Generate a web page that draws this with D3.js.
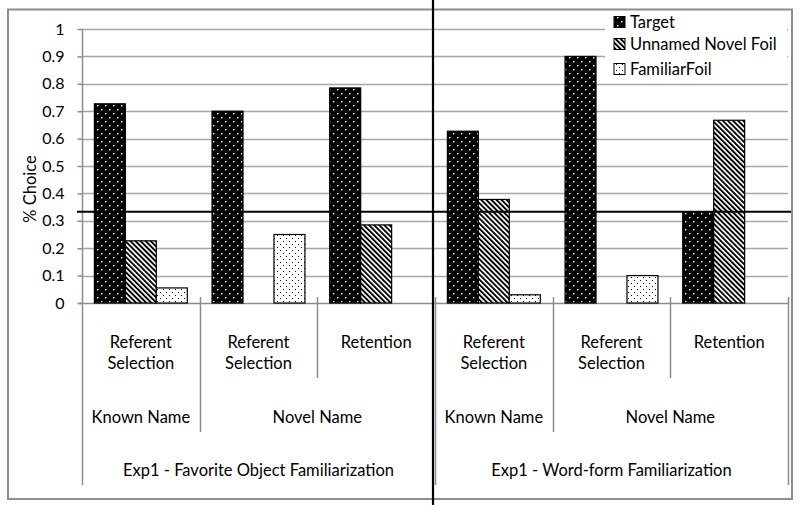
<!DOCTYPE html>
<html>
<head>
<meta charset="utf-8">
<script src="https://cdn.jsdelivr.net/npm/d3@7"></script>
<style>
  html, body { margin: 0; padding: 0; background: #fff; }
  svg { display: block; font-family: Lato, "Open Sans", sans-serif; }
</style>
</head>
<body>
<svg id="chart" width="800" height="505"></svg>
<script>
// ---- data ----
const categories = ["Cat1", "Cat2", "Cat3", "Cat4", "Cat5", "Cat6"];
const level1Labels = [["Referent", "Selection"], ["Referent", "Selection"], ["Retention"],
                      ["Referent", "Selection"], ["Referent", "Selection"], ["Retention"]];
const level2Labels = ["Known Name", "Novel Name", "Known Name", "Novel Name"];
const level2Spans = [1, 2, 1, 2];
const level3Labels = ["Exp1 - Favorite Object Familiarization", "Exp1 - Word-form Familiarization"];
const level3Spans = [3, 3];
const seriesNames = ["Target", "Unnamed Novel Foil", "FamiliarFoil"];
const targetValues = [0.727, 0.70, 0.785, 0.627, 0.90, 0.333];
const unnamedValues = [0.227, 0, 0.285, 0.378, 0, 0.667];
const familiarValues = [0.055, 0.25, 0, 0.03, 0.10, 0];
const yTicks = [0, 0.1, 0.2, 0.3, 0.4, 0.5, 0.6, 0.7, 0.8, 0.9, 1];
const chanceLevel = 0.333;

(function () {
const seriesValues = [targetValues, unnamedValues, familiarValues];
const patternIds = ["pTarget", "pUnnamed", "pFamiliar"];

const svg = d3.select("#chart");
const W = 800, H = 505;
const pLeft = 82, pRight = 788, pTop = 29, pBottom = 303;
const FS = 16.5;

// ---- patterns ----
const defs = svg.append("defs");
const pT = defs.append("pattern").attr("id", "pTarget").attr("patternUnits", "userSpaceOnUse")
  .attr("width", 8).attr("height", 8);
pT.append("rect").attr("width", 8).attr("height", 8).attr("fill", "#000");
pT.append("rect").attr("x", 1).attr("y", 1).attr("width", 1.4).attr("height", 1.4).attr("fill", "#fff");
pT.append("rect").attr("x", 5).attr("y", 5).attr("width", 1.4).attr("height", 1.4).attr("fill", "#fff");

const pU = defs.append("pattern").attr("id", "pUnnamed").attr("patternUnits", "userSpaceOnUse")
  .attr("width", 3.6).attr("height", 3.6).attr("patternTransform", "rotate(-45)");
pU.append("rect").attr("width", 3.6).attr("height", 3.6).attr("fill", "#fff");
pU.append("rect").attr("width", 1.9).attr("height", 3.6).attr("fill", "#000");

const pF = defs.append("pattern").attr("id", "pFamiliar").attr("patternUnits", "userSpaceOnUse")
  .attr("width", 6).attr("height", 6);
pF.append("rect").attr("width", 6).attr("height", 6).attr("fill", "#fff");
pF.append("rect").attr("x", 1).attr("y", 1).attr("width", 1).attr("height", 1).attr("fill", "#000");
pF.append("rect").attr("x", 4).attr("y", 4).attr("width", 1).attr("height", 1).attr("fill", "#000");

// ---- scales ----
const y = d3.scaleLinear().domain([0, 1]).range([pBottom, pTop]);
const x0 = d3.scaleBand().domain(categories).range([pLeft, pRight]).paddingInner(0).paddingOuter(0);
const x1 = d3.scaleBand().domain(seriesNames).range([0, x0.bandwidth()]).paddingInner(0).paddingOuter(0.4);

// background
svg.append("rect").attr("width", W).attr("height", H).attr("fill", "#fff");

// outer border
svg.append("rect").attr("x", 8).attr("y", 9.5).attr("width", 784).attr("height", 489.5)
  .attr("fill", "none").attr("stroke", "#8c8c8c").attr("stroke-width", 2);

// gridlines
svg.append("g").selectAll("line").data(yTicks.filter(d => d > 0)).join("line")
  .attr("x1", pLeft).attr("x2", pRight)
  .attr("y1", d => Math.round(y(d)) + 0.5).attr("y2", d => Math.round(y(d)) + 0.5)
  .attr("stroke", "#a6a6a6").attr("stroke-width", 1.6);

// y axis
const yAxis = d3.axisLeft(y).tickValues(yTicks).tickFormat(d => String(+d.toFixed(1))).tickSize(5).tickPadding(13);
const gy = svg.append("g").attr("transform", `translate(${pLeft + 0.5},0)`).call(yAxis);
gy.select(".domain").remove();
gy.selectAll(".tick line").attr("stroke", "#8c8c8c").attr("stroke-width", 1.5);
gy.selectAll(".tick text").attr("font-size", 16).attr("fill", "#000").attr("font-family", "Lato, sans-serif");
svg.append("line").attr("x1", pLeft + 0.5).attr("x2", pLeft + 0.5).attr("y1", pTop).attr("y2", 485)
  .attr("stroke", "#8c8c8c").attr("stroke-width", 1.5);
svg.append("line").attr("x1", pLeft - 3).attr("x2", pRight).attr("y1", pBottom + 0.5).attr("y2", pBottom + 0.5)
  .attr("stroke", "#8c8c8c").attr("stroke-width", 1.5);

// y title
svg.append("text").attr("transform", "translate(36,189) rotate(-90)")
  .attr("text-anchor", "middle").attr("font-size", FS).text("% Choice");

// bars
const barData = [];
categories.forEach((c, i) => {
  seriesNames.forEach((s, j) => {
    if (seriesValues[j][i] > 0) barData.push({ c, s, j, v: seriesValues[j][i] });
  });
});
svg.append("g").selectAll("rect").data(barData).join("rect")
  .attr("x", d => x0(d.c) + x1(d.s))
  .attr("y", d => y(d.v))
  .attr("width", x1.bandwidth())
  .attr("height", d => y(0) - y(d.v))
  .attr("fill", d => `url(#${patternIds[d.j]})`)
  .attr("stroke", "#000").attr("stroke-width", 1.2);

// chance line
svg.append("line").attr("x1", 77).attr("x2", 791).attr("y1", y(chanceLevel)).attr("y2", y(chanceLevel))
  .attr("stroke", "#000").attr("stroke-width", 2.2);

// multi-level category separators
const boundaries = d3.range(categories.length + 1).map(i => i < categories.length ? x0(categories[i]) : pRight);
const acc2 = [0]; level2Spans.reduce((a, s) => { acc2.push(a + s); return a + s; }, 0);
const acc3 = [0]; level3Spans.reduce((a, s) => { acc3.push(a + s); return a + s; }, 0);
boundaries.forEach((bx, i) => {
  let yEnd = 378;
  if (acc2.includes(i)) yEnd = 432;
  if (acc3.includes(i)) yEnd = 485;
  if (i === 0) return;
  svg.append("line").attr("x1", Math.round(bx) + 0.5).attr("x2", Math.round(bx) + 0.5)
    .attr("y1", pBottom - 6).attr("y2", yEnd)
    .attr("stroke", "#8c8c8c").attr("stroke-width", 1.5);
});

// level 1 labels
const g1 = svg.append("g").attr("font-size", FS).attr("text-anchor", "middle");
categories.forEach((c, i) => {
  const cx = x0(c) + x0.bandwidth() / 2;
  const t = g1.append("text").attr("x", cx).attr("y", 348);
  level1Labels[i].forEach((ln, k) => {
    t.append("tspan").attr("x", cx).attr("dy", k === 0 ? 0 : 21).text(ln);
  });
});
level2Labels.forEach((lab, k) => {
  const a = boundaries[acc2[k]], b = boundaries[acc2[k + 1]];
  svg.append("text").attr("x", (a + b) / 2).attr("y", 423).attr("font-size", FS)
    .attr("text-anchor", "middle").text(lab);
});
level3Labels.forEach((lab, k) => {
  const a = boundaries[acc3[k]], b = boundaries[acc3[k + 1]];
  svg.append("text").attr("x", (a + b) / 2).attr("y", 476).attr("font-size", FS)
    .attr("text-anchor", "middle").text(lab);
});

// black vertical divider
svg.append("line").attr("x1", 433).attr("x2", 433).attr("y1", 0).attr("y2", H)
  .attr("stroke", "#000").attr("stroke-width", 2.2);

// legend
const lg = svg.append("g");
lg.append("rect").attr("x", 605).attr("y", 11).attr("width", 182).attr("height", 67).attr("fill", "#fff");
const legendY = [22, 44, 69];
seriesNames.forEach((s, j) => {
  lg.append("rect").attr("x", 614).attr("y", legendY[j] - 5.5).attr("width", 11).attr("height", 11)
    .attr("fill", `url(#${patternIds[j]})`).attr("stroke", "#000").attr("stroke-width", 1);
  lg.append("text").attr("x", 630).attr("y", legendY[j]).attr("dy", "0.36em")
    .attr("font-size", FS).text(s);
});
})();
</script>
</body>
</html>
